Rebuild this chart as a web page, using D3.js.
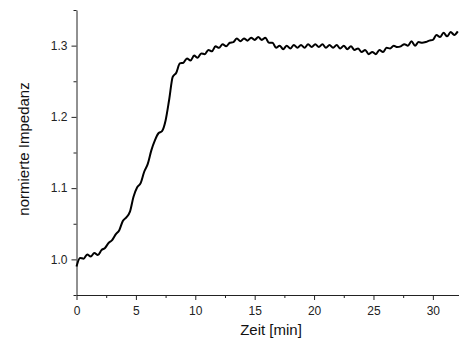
<!DOCTYPE html>
<html>
<head>
<meta charset="utf-8">
<script src="https://cdn.jsdelivr.net/npm/d3@7"></script>
<style>
  body { margin: 0; background: #fff; }
  svg { display: block; font-family: "Liberation Sans", Arial, sans-serif; }
</style>
</head>
<body>
<div id="chart"></div>
<script>
// time axis, in minutes (one reading every 0.3 min)
const zeit = [
  0.0, 0.3, 0.6, 0.9, 1.2, 1.5, 1.8, 2.1, 2.4, 2.7,
  3.0, 3.3, 3.6, 3.9, 4.2, 4.5, 4.8, 5.1, 5.4, 5.7,
  6.0, 6.3, 6.6, 6.9, 7.2, 7.5, 7.8, 8.1, 8.4, 8.7,
  9.0, 9.3, 9.6, 9.9, 10.2, 10.5, 10.8, 11.1, 11.4, 11.7,
  12.0, 12.3, 12.6, 12.9, 13.2, 13.5, 13.8, 14.1, 14.4, 14.7,
  15.0, 15.3, 15.6, 15.9, 16.2, 16.5, 16.8, 17.1, 17.4, 17.7,
  18.0, 18.3, 18.6, 18.9, 19.2, 19.5, 19.8, 20.1, 20.4, 20.7,
  21.0, 21.3, 21.6, 21.9, 22.2, 22.5, 22.8, 23.1, 23.4, 23.7,
  24.0, 24.3, 24.6, 24.9, 25.2, 25.5, 25.8, 26.1, 26.4, 26.7,
  27.0, 27.3, 27.6, 27.9, 28.2, 28.5, 28.8, 29.1, 29.4, 29.7,
  30.0, 30.3, 30.6, 30.9, 31.2, 31.5, 31.8, 32.1
];

// normalised impedance
const impedanz = [
  0.990, 1.002, 1.001, 1.007, 1.004, 1.009, 1.006, 1.013, 1.016, 1.023,
  1.027, 1.035, 1.041, 1.054, 1.059, 1.067, 1.088, 1.101, 1.107, 1.123,
  1.134, 1.153, 1.167, 1.177, 1.180, 1.195, 1.224, 1.256, 1.262, 1.275,
  1.276, 1.282, 1.279, 1.286, 1.283, 1.289, 1.288, 1.294, 1.292, 1.299,
  1.297, 1.302, 1.299, 1.304, 1.305, 1.310, 1.306, 1.310, 1.307, 1.311,
  1.308, 1.312, 1.308, 1.311, 1.304, 1.304, 1.297, 1.300, 1.295, 1.300,
  1.296, 1.301, 1.297, 1.301, 1.297, 1.302, 1.298, 1.302, 1.298, 1.302,
  1.297, 1.301, 1.297, 1.301, 1.296, 1.300, 1.295, 1.299, 1.294, 1.296,
  1.291, 1.294, 1.288, 1.291, 1.288, 1.294, 1.291, 1.297, 1.296, 1.300,
  1.298, 1.299, 1.302, 1.300, 1.306, 1.300, 1.305, 1.304, 1.305, 1.307,
  1.308, 1.315, 1.312, 1.318, 1.313, 1.319, 1.315, 1.320
];

const xTicks = [0, 5, 10, 15, 20, 25, 30];
const xMinor = [2.5, 7.5, 12.5, 17.5, 22.5, 27.5];
const yTicks = [1.0, 1.1, 1.2, 1.3];
const yMinor = [0.95, 1.05, 1.15, 1.25, 1.35];

const W = 459, H = 344;
const plot = {left: 76.5, right: 459, top: 10, bottom: 295};

const svg = d3.select("#chart").append("svg")
    .attr("width", W)
    .attr("height", H);

const x = d3.scaleLinear().domain([0, 32.2]).range([plot.left, plot.right]);
const y = d3.scaleLinear().domain([0.95, 1.35]).range([plot.bottom, plot.top]);

// minor ticks first, no labels
svg.append("g")
    .attr("transform", `translate(0,${plot.bottom})`)
    .call(d3.axisBottom(x).tickValues(xMinor).tickSize(3).tickFormat(""))
    .call(g => g.select(".domain").remove());
svg.append("g")
    .attr("transform", `translate(${plot.left},0)`)
    .call(d3.axisLeft(y).tickValues(yMinor).tickSize(3).tickFormat(""))
    .call(g => g.select(".domain").remove());

// major axes
const xAxis = svg.append("g")
    .attr("transform", `translate(0,${plot.bottom})`)
    .call(d3.axisBottom(x).tickValues(xTicks).tickSize(5).tickSizeOuter(0).tickPadding(6).tickFormat(d3.format("d")));
const yAxis = svg.append("g")
    .attr("transform", `translate(${plot.left},0)`)
    .call(d3.axisLeft(y).tickValues(yTicks).tickSize(5).tickSizeOuter(0).tickPadding(4).tickFormat(d3.format(".1f")));

[xAxis, yAxis].forEach(g => {
  g.selectAll("text").style("font-size", "12px").attr("fill", "#222");
  g.select(".domain").attr("stroke", "#222");
});
svg.selectAll("g line").attr("stroke", "#222");

// the curve
const pts = zeit.map((t, i) => [t, impedanz[i]]);
svg.append("path")
    .datum(pts)
    .attr("fill", "none")
    .attr("stroke", "#000")
    .attr("stroke-width", 2)
    .attr("stroke-linejoin", "round")
    .attr("d", d3.line()
        .x(d => x(d[0]))
        .y(d => y(d[1]))
        .curve(d3.curveMonotoneX));

// axis titles
svg.append("text")
    .attr("x", 271)
    .attr("y", 335)
    .attr("text-anchor", "middle")
    .style("font-size", "15px")
    .attr("fill", "#111")
    .text("Zeit [min]");

svg.append("text")
    .attr("transform", `translate(29,149) rotate(-90)`)
    .attr("text-anchor", "middle")
    .style("font-size", "15px")
    .attr("fill", "#111")
    .text("normierte Impedanz");
</script>
</body>
</html>
